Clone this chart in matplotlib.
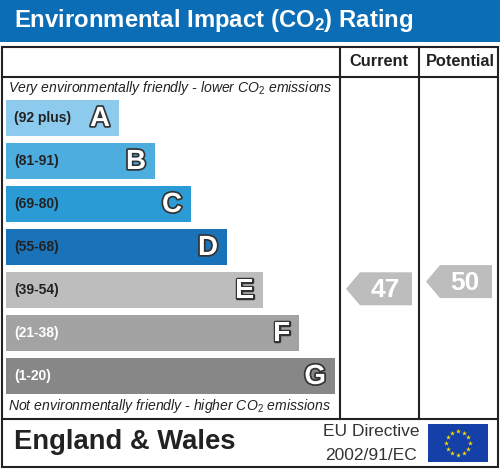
import numpy as np
import matplotlib
matplotlib.use("Agg")
import matplotlib.pyplot as plt
from matplotlib.patches import Rectangle, Polygon
import matplotlib.patheffects as pe

plt.rcParams['font.family'] = ['Liberation Sans', 'DejaVu Sans']
plt.rcParams['mathtext.fontset'] = 'custom'
plt.rcParams['mathtext.rm'] = 'Liberation Sans'
plt.rcParams['mathtext.it'] = 'Liberation Sans:italic'
plt.rcParams['mathtext.bf'] = 'Liberation Sans:bold'

# rating bands, best to worst
letters = ['A', 'B', 'C', 'D', 'E', 'F', 'G']
ranges = ['(92 plus)', '(81-91)', '(69-80)', '(55-68)', '(39-54)', '(21-38)', '(1-20)']
band_lo = [92, 81, 69, 55, 39, 21, 1]
band_hi = [100, 91, 80, 68, 54, 38, 20]
band_colors = ['#8ccbee', '#4eaddf', '#2b9bd5', '#1a72b8', '#bdbdbd', '#a3a3a3', '#878787']
range_colors = ['#222222'] * 5 + ['#ffffff'] * 2

current_value = 47
potential_value = 50

fig = plt.figure(figsize=(5.0, 4.69), dpi=100)
ax = fig.add_axes([0, 0, 1, 1])
ax.set_xlim(0, 500)
ax.set_ylim(469, 0)
ax.axis('off')

# title band
ax.add_patch(Rectangle((0, 0), 500, 42, color='#0b6db5', lw=0))
ax.text(14, 21, r'Environmental Impact (CO$\mathbf{_2}$) Rating', color='white',
        fontsize=17.2, fontweight='bold', va='center', ha='left')

# table frame
line_kw = dict(color='#222222', lw=1.5)
ax.add_patch(Rectangle((2, 47), 496, 420, fill=False, **line_kw))
ax.plot([2, 498], [77, 77], **line_kw)
ax.plot([2, 498], [419, 419], **line_kw)
col_x = [340, 419]
for cx in col_x:
    ax.plot([cx, cx], [47, 419], **line_kw)

ax.text(379, 62, 'Current', fontsize=11.8, fontweight='bold', ha='center', va='center', color='#222222')
ax.text(460, 62, 'Potential', fontsize=11.8, fontweight='bold', ha='center', va='center', color='#222222')

ax.text(8, 88, r'Very environmentally friendly - lower CO$_2$ emissions', fontsize=10.1,
        style='italic', va='center', ha='left', color='#222222')
ax.text(8, 406, r'Not environmentally friendly - higher CO$_2$ emissions', fontsize=10.1,
        style='italic', va='center', ha='left', color='#222222')

# bands
bar_top0 = 100
pitch = 43
bar_h = 36
bar_x = 6
band_tops = []
for i, (let, rng) in enumerate(zip(letters, ranges)):
    top = bar_top0 + i * pitch
    band_tops.append(top)
    w = 113 + 36 * i
    ax.add_patch(Rectangle((bar_x, top), w, bar_h, color=band_colors[i], lw=0))
    ax.text(14, top + bar_h / 2, rng, fontsize=10, fontweight='bold',
            color=range_colors[i], va='center', ha='left')
    ax.text(bar_x + w - 9, top + bar_h / 2 + 1, let, fontsize=20, fontweight='bold',
            color='white', va='center', ha='right',
            path_effects=[pe.withStroke(linewidth=2.5, foreground='#333333')])


def band_y(v):
    for i in range(len(letters)):
        if band_lo[i] <= v <= band_hi[i]:
            frac = (band_hi[i] - v) / (band_hi[i] - band_lo[i])
            return band_tops[i] + frac * bar_h, i
    return band_tops[-1], len(letters) - 1


def rating_arrow(x0, v):
    yc, i = band_y(v)
    h = 33
    tip = 14
    w = 66
    pts = [(x0, yc), (x0 + tip, yc - h / 2), (x0 + w, yc - h / 2),
           (x0 + w, yc + h / 2), (x0 + tip, yc + h / 2)]
    ax.add_patch(Polygon(pts, closed=True, color=band_colors[i], lw=0))
    ax.text(x0 + tip + (w - tip) / 2 - 1, yc + 1, str(v), fontsize=19, fontweight='bold',
            color='white', ha='center', va='center')


rating_arrow(col_x[0] + 6, current_value)
rating_arrow(col_x[1] + 7, potential_value)

# footer
ax.text(14, 442, 'England & Wales', fontsize=19.7, fontweight='bold', color='#222222',
        va='center', ha='left')
ax.text(371, 432, 'EU Directive', fontsize=12.5, color='#333333', va='center', ha='center')
ax.text(371, 455, '2002/91/EC', fontsize=12.5, color='#333333', va='center', ha='center')

# EU flag
ax.add_patch(Rectangle((428, 424), 60, 38, color='#1440a8', lw=0))
ang = np.linspace(0, 2 * np.pi, 12, endpoint=False)
ax.scatter(458 + 12 * np.cos(ang), 443 + 12 * np.sin(ang), marker='*', s=14,
           color='#f5d800', lw=0, zorder=3)

fig.savefig('out.png', dpi=100)
